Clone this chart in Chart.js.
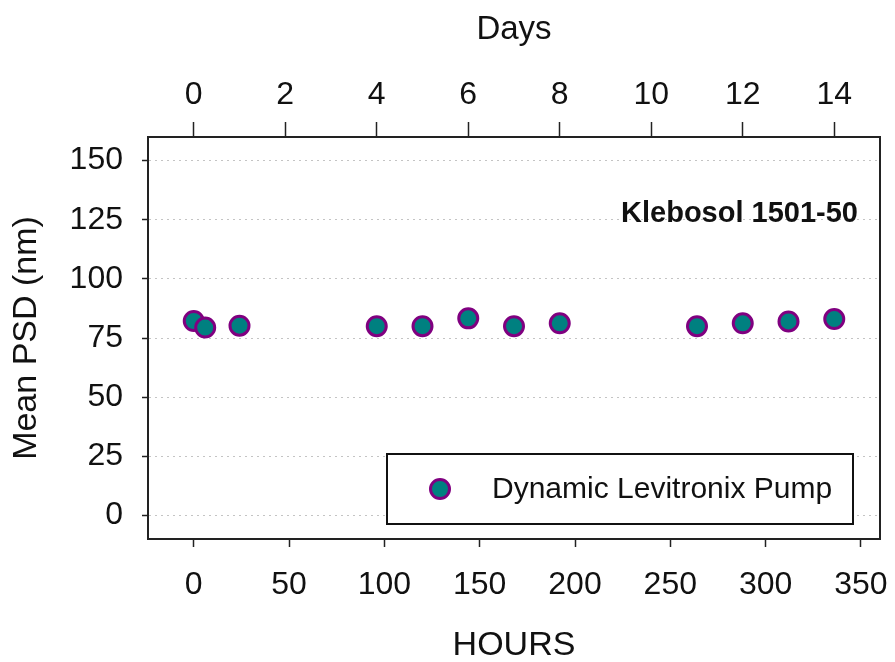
<!DOCTYPE html>
<html>
<head>
<meta charset="utf-8">
<script src="https://cdn.jsdelivr.net/npm/chart.js@4.4.0/dist/chart.umd.min.js"></script>
<style>
  body { margin: 0; background: #fff; }
</style>
</head>
<body>
<canvas id="canvas" width="895" height="662"></canvas>
<script>
// values
const hours = [0, 6, 24, 96, 120, 144, 168, 192, 264, 288, 312, 336];
const psd = [82.2, 79.4, 80.2, 80, 80, 83.3, 80, 81.2, 80, 81.2, 82, 83];

const hourTicks = [0, 50, 100, 150, 200, 250, 300, 350];
const dayTicks = [0, 2, 4, 6, 8, 10, 12, 14];
const psdTicks = [0, 25, 50, 75, 100, 125, 150];

const seriesName = 'Dynamic Levitronix Pump';
const sampleName = 'Klebosol 1501-50';

const FONT = "'Liberation Sans', Arial, sans-serif";
const INK = '#111';
const BOX = '#222';

Chart.defaults.color = INK;
Chart.defaults.font.family = FONT;

function fixTicks(list) {
  return function (scale) {
    scale.ticks = list.map(v => ({ value: v }));
  };
}

// fixed axis sizes, no extra room for overhanging labels
function fitTo(size) {
  return function (s) {
    if (s.isHorizontal()) s.height = size; else s.width = size;
    s.paddingLeft = s.paddingRight = s.paddingTop = s.paddingBottom = 0;
  };
}

// sample name and the framed legend inside the plot
const boxLegend = {
  id: 'boxLegend',
  afterDraw(chart) {
    const ctx = chart.ctx;
    const ds = chart.data.datasets[0];
    ctx.save();
    ctx.font = 'bold 29px ' + FONT;
    ctx.fillStyle = INK;
    ctx.textAlign = 'right';
    ctx.textBaseline = 'middle';
    ctx.fillText(sampleName, 858, 214);

    ctx.fillStyle = '#fff';
    ctx.fillRect(387, 454, 466, 70);
    ctx.lineWidth = 2;
    ctx.strokeStyle = INK;
    ctx.strokeRect(387, 454, 466, 70);

    ctx.beginPath();
    ctx.arc(440, 489, ds.pointRadius, 0, Math.PI * 2);
    ctx.fillStyle = ds.backgroundColor;
    ctx.fill();
    ctx.lineWidth = ds.borderWidth;
    ctx.strokeStyle = ds.borderColor;
    ctx.stroke();

    ctx.font = '30px ' + FONT;
    ctx.fillStyle = INK;
    ctx.textAlign = 'left';
    ctx.fillText(ds.label, 492, 490);
    ctx.restore();
  }
};

const ctx = document.getElementById('canvas').getContext('2d');
new Chart(ctx, {
  type: 'scatter',
  data: {
    datasets: [{
      label: seriesName,
      data: hours.map((h, i) => ({ x: h, y: psd[i] })),
      backgroundColor: '#008080',
      borderColor: '#800080',
      borderWidth: 3,
      pointRadius: 9.5,
      pointHoverRadius: 9.5,
      showLine: false
    }]
  },
  options: {
    responsive: false,
    animation: false,
    layout: { padding: 0 },
    plugins: {
      legend: { display: false },
      tooltip: { enabled: false }
    },
    scales: {
      x: {
        type: 'linear',
        position: 'bottom',
        min: -24,
        max: 360,
        afterBuildTicks: fixTicks(hourTicks),
        afterFit: fitTo(123),
        grid: { drawOnChartArea: false, tickLength: 8, tickColor: BOX, tickWidth: 1.5 },
        border: { color: BOX, width: 2 },
        ticks: { font: { size: 32 }, padding: 19, maxRotation: 0, autoSkip: false },
        title: { display: true, text: 'HOURS', font: { size: 34 }, padding: { top: 0, bottom: -4 } }
      },
      x2: {
        type: 'linear',
        position: 'top',
        min: -1,
        max: 15,
        afterBuildTicks: fixTicks(dayTicks),
        afterFit: fitTo(137),
        grid: { drawOnChartArea: false, tickLength: 15, tickColor: BOX, tickWidth: 1.5 },
        border: { color: BOX, width: 2 },
        ticks: { font: { size: 32 }, padding: 8, maxRotation: 0, autoSkip: false },
        title: { display: true, text: 'Days', font: { size: 33 }, padding: { top: 10, bottom: 0 } }
      },
      y: {
        type: 'linear',
        position: 'left',
        min: -10,
        max: 160,
        afterBuildTicks: fixTicks(psdTicks),
        afterFit: fitTo(148),
        grid: { color: '#c4c4c4', lineWidth: 1, tickLength: 6, tickColor: BOX, tickWidth: 1.5 },
        border: { color: BOX, width: 2, dash: [2, 4] },
        ticks: { font: { size: 32 }, padding: 19 },
        title: { display: true, text: 'Mean PSD (nm)', font: { size: 34 }, padding: { top: 6, bottom: 0 } }
      },
      y2: {
        type: 'linear',
        position: 'right',
        min: -10,
        max: 160,
        afterFit: fitTo(15),
        grid: { drawOnChartArea: false, drawTicks: false },
        border: { color: BOX, width: 2 },
        ticks: { display: false }
      }
    }
  },
  plugins: [boxLegend]
});
</script>
</body>
</html>
